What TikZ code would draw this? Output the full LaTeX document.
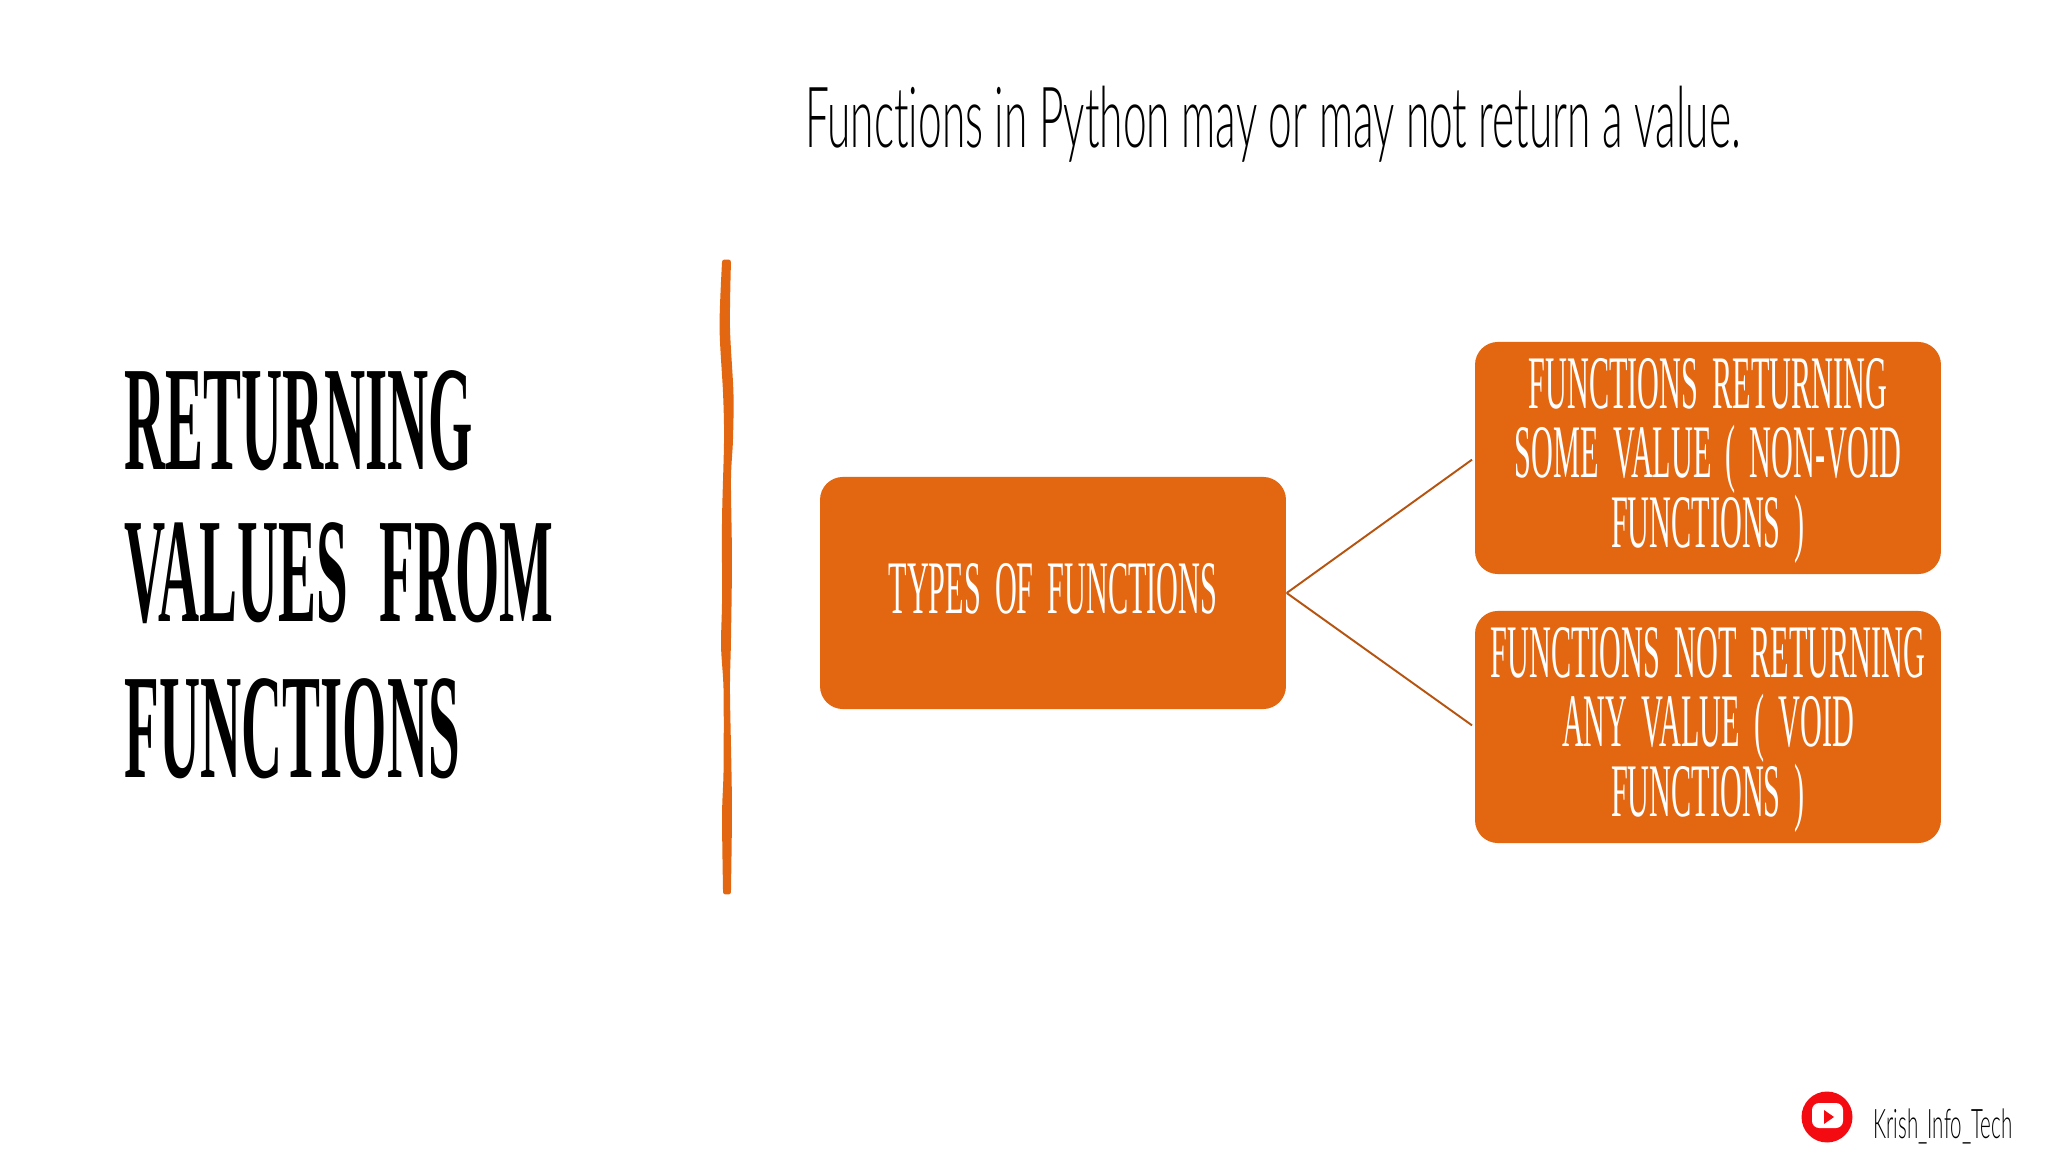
\documentclass[tikz,border=0pt]{standalone}
\usepackage{fontspec}
\newfontfamily\titlefont[FakeStretch=0.381,WordSpace=2.2]{Liberation Serif Bold}
\newfontfamily\boxfont[FakeStretch=0.4]{Liberation Serif}
\newfontfamily\thinfont[FakeStretch=0.503,Ligatures=NoCommon]{Lato Light}
\definecolor{boxorange}{HTML}{E36710}
\definecolor{edgeorange}{HTML}{B5530F}
\definecolor{ytred}{HTML}{F40B12}
\tikzset{%
  orangebox/.style={shape=rectangle,fill=boxorange,rounded corners=6.5pt,text=white,align=center,inner sep=0pt,font=\boxfont\fontsize{21.5}{19.8}\selectfont,execute at begin node={\lineskiplimit=-20pt\spaceskip=4pt\relax},execute at end node={\par\vspace{-1.7pt}},text width=132.5pt,minimum width=132.5pt,minimum height=66pt},
  headline/.style={anchor=base west,inner sep=0,font=\titlefont\fontsize{42.5}{42.5}\selectfont},
  linkedge/.style={draw=edgeorange,line width=.55pt,shorten >=.8pt}
}
\begin{document}
\begin{tikzpicture}[x=0.01cm,y=-0.01cm]
    \useasboundingbox (0,0) rectangle (2048,1152);
    \path
      (1273,124) node[inner sep=0,font=\thinfont\fontsize{24}{24}\selectfont] (intro) {Functions in Python may or may not return a value.}
      (124,470) node[headline] (lineone) {RETURNING}
      (124,622) node[headline] (linetwo) {VALUES FROM}
      (124,777) node[headline] (linethree) {FUNCTIONS};
    \filldraw[boxorange,line width=1.4pt,line join=round]
      plot[smooth] coordinates {(724.5,262) (722,327) (725.5,393) (726.5,440) (724.5,519) (724.5,600)
        (723.5,646) (726,690) (726,770) (724.5,816) (725.5,892)}
      -- plot[smooth] coordinates {(728.5,892) (729.5,816) (729,770) (727.5,690) (728.5,640) (729.5,560)
        (728.5,480) (730.5,440) (731,393) (727.5,327) (728.5,262)} -- cycle;
    \path
      (1053,593) node[orangebox] (types) {\raisebox{2.4pt}{TYPES OF FUNCTIONS}}
      (1708,458) node[orangebox] (nonvoid) {FUNCTIONS RETURNING\\SOME VALUE ( NON-VOID\\FUNCTIONS )}
      (1708,727) node[orangebox] (void) {FUNCTIONS NOT RETURNING\\ANY VALUE ( VOID\\FUNCTIONS )};
    \draw[linkedge] (types.east) -- (nonvoid.west);
    \draw[linkedge] (types.east) -- (void.west);
    % channel badge
    \path (1827,1117) node[shape=circle,fill=ytred,minimum size=14.5pt,inner sep=0] (badge) {};
    \fill[white,rounded corners=2pt] (1812,1103) rectangle (1843,1128);
    \fill[ytred] (1824,1110) -- (1824,1124) -- (1834,1117) -- cycle;
    \path (1943,1126) node[inner sep=0,font=\thinfont\fontsize{11.6}{12}\selectfont] (channel) {Krish\_Info\_Tech};
\end{tikzpicture}
\end{document}
